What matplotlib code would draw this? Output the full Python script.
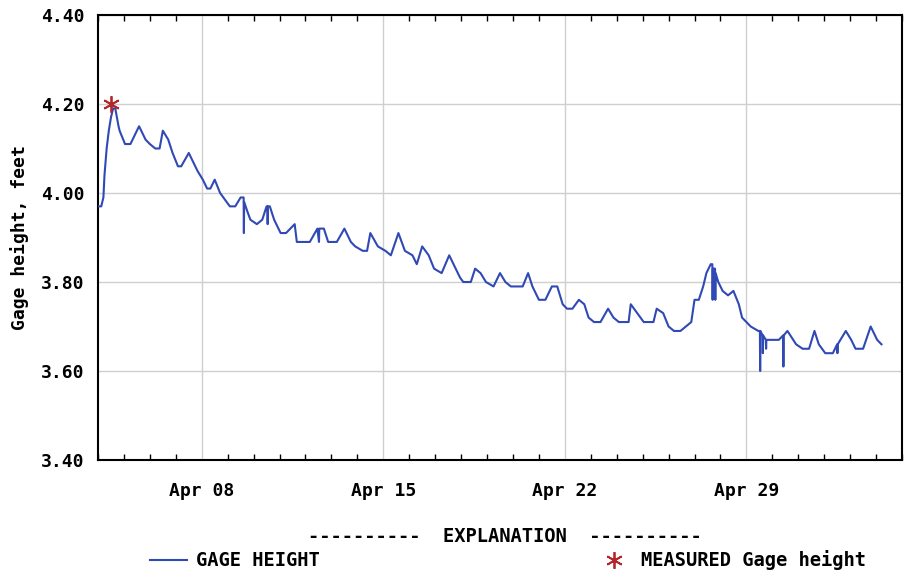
import matplotlib
matplotlib.use("Agg")
import matplotlib.dates as mdates
import matplotlib.pyplot as plt
import pandas as pd

# ── Data ──────────────────────────────────────────────────────────────────────
START = pd.Timestamp("2013-04-04 00:00")
END = pd.Timestamp("2013-05-05 00:00")

# (hours since START, gage height in feet)
readings = [
    (0, 3.97), (3, 3.97), (5, 3.99), (6, 4.04), (8, 4.10), (10, 4.14),
    (12, 4.17), (14, 4.19), (16, 4.19), (19, 4.15), (20, 4.14), (25, 4.11),
    (30, 4.11), (38, 4.15),
    (44, 4.12), (48, 4.11), (53, 4.10), (57, 4.10), (60, 4.14), (65, 4.12),
    (69, 4.09), (74, 4.06), (77, 4.06), (84, 4.09), (92, 4.05), (97, 4.03),
    (101, 4.01), (104, 4.01), (108, 4.03), (113, 4.00), (119, 3.98),
    (122, 3.97), (127, 3.97), (132, 3.99), (134.75, 3.99), (135, 3.91),
    (135.25, 3.98), (138, 3.96), (141, 3.94), (147, 3.93), (152, 3.94),
    (156, 3.97), (156.75, 3.97), (157, 3.93), (157.25, 3.97), (159, 3.97),
    (163, 3.94), (169, 3.91), (174, 3.91), (182, 3.93), (184, 3.89),
    (192, 3.89), (196, 3.89), (203, 3.92), (204.5, 3.89), (204.75, 3.92),
    (209, 3.92), (213, 3.89), (221, 3.89), (228, 3.92), (234, 3.89),
    (238, 3.88), (245, 3.87), (249, 3.87), (252, 3.91), (259, 3.88),
    (266, 3.87), (271, 3.86), (278, 3.91), (284, 3.87), (291, 3.86),
    (295, 3.84), (300, 3.88), (306, 3.86), (311, 3.83), (318, 3.82),
    (325, 3.86), (331, 3.83), (335, 3.81), (338, 3.80), (345, 3.80),
    (349, 3.83), (354, 3.82), (359, 3.80), (366, 3.79), (372, 3.82),
    (377, 3.80), (382, 3.79), (393, 3.79), (398, 3.82), (402, 3.79),
    (408, 3.76), (414, 3.76), (420, 3.79), (425, 3.79), (430, 3.75),
    (434, 3.74), (439, 3.74), (445, 3.76), (450, 3.75), (454, 3.72),
    (459, 3.71), (465, 3.71), (472, 3.74), (477, 3.72), (482, 3.71),
    (491, 3.71), (493, 3.75), (499, 3.73), (505, 3.71), (514, 3.71),
    (517, 3.74), (523, 3.73), (528, 3.70), (533, 3.69), (539, 3.69),
    (544, 3.70), (549, 3.71), (552, 3.76), (556, 3.76), (560, 3.79),
    (563, 3.82), (567, 3.84), (568.5, 3.84), (568.75, 3.76), (569, 3.83),
    (571, 3.83), (571.25, 3.76), (571.5, 3.82), (574, 3.80), (578, 3.78),
    (583, 3.77), (588, 3.78), (593, 3.75), (596, 3.72), (600, 3.71),
    (604, 3.70), (611, 3.69), (612.5, 3.69), (612.75, 3.60), (613, 3.69),
    (615, 3.68), (615.25, 3.64), (615.5, 3.68), (618, 3.67), (618.25, 3.65),
    (618.5, 3.67), (623, 3.67), (630, 3.67), (634, 3.68), (634.25, 3.61),
    (634.5, 3.68), (638, 3.69), (646, 3.66), (652, 3.65), (658, 3.65),
    (663, 3.69), (667, 3.66), (673, 3.64), (680, 3.64), (684, 3.66),
    (684.25, 3.64), (684.5, 3.66), (692, 3.69), (697, 3.67), (701, 3.65),
    (708, 3.65), (715, 3.70), (721, 3.67), (725, 3.66),
]
hours = [h for h, _ in readings]
gage_ft = [v for _, v in readings]

measured_hours = [12]
measured_ft = [4.20]

times = [START + pd.Timedelta(hours=h) for h in hours]
meas_times = [START + pd.Timedelta(hours=h) for h in measured_hours]

# ── Style ─────────────────────────────────────────────────────────────────────
BLUE = "#3049B5"
RED = "#B3262A"
GRID = "#CFCFCF"
FONT = "DejaVu Sans Mono"
FS = 13
FS_LEG = 13.5
LEG_Y = 1 - 560 / 571

plt.rcParams.update({
    "font.family": FONT,
    "font.weight": "bold",
    "font.size": FS,
})

fig = plt.figure(figsize=(9.06, 5.71), dpi=100)
ax = fig.add_axes([98 / 906, 1 - 460 / 571, 804 / 906, 445 / 571])

ax.plot(times, gage_ft, color=BLUE, lw=1.5, zorder=3)
ax.plot(meas_times, measured_ft, ls="none", marker=(6, 2, 0), ms=12,
        mec=RED, mew=1.3, zorder=4)

ax.set_xlim(START, END)
ax.set_ylim(3.40, 4.40)
ax.set_yticks([3.40, 3.60, 3.80, 4.00, 4.20, 4.40])
ax.yaxis.set_major_formatter(plt.FuncFormatter(lambda v, _: f"{v:.2f}"))
ax.set_ylabel("Gage height, feet", fontsize=FS, fontweight="bold", labelpad=8)

ax.xaxis.set_major_locator(mdates.DayLocator(bymonthday=[8, 15, 22, 29]))
ax.xaxis.set_major_formatter(mdates.DateFormatter("%b %d"))
ax.xaxis.set_minor_locator(mdates.DayLocator())

ax.grid(True, which="major", color=GRID, lw=1.0)
ax.tick_params(axis="y", which="both", length=0, pad=10, labelsize=FS)
ax.tick_params(axis="x", which="major", length=0, pad=16, labelsize=FS)
ax.tick_params(axis="x", which="minor", direction="in", length=4, width=1,
               top=True, bottom=True)
for s in ax.spines.values():
    s.set_linewidth(1.5)
    s.set_color("black")

# ── Explanation block ─────────────────────────────────────────────────────────
fig.text(505 / 906, 1 - 537 / 571, "----------  EXPLANATION  ----------",
         ha="center", va="center", fontsize=FS_LEG, fontweight="bold")
fig.add_artist(plt.Line2D([150 / 906, 187 / 906], [LEG_Y] * 2,
                          color=BLUE, lw=1.5))
fig.text(196 / 906, LEG_Y, "GAGE HEIGHT", ha="left", va="center",
         fontsize=FS_LEG, fontweight="bold")
fig.add_artist(plt.Line2D([614 / 906], [LEG_Y], ls="none",
                          marker=(6, 2, 0), ms=12, mec=RED, mew=1.3))
fig.text(641 / 906, LEG_Y, "MEASURED Gage height", ha="left",
         va="center", fontsize=FS_LEG, fontweight="bold")

fig.savefig("out.png", dpi=100)
